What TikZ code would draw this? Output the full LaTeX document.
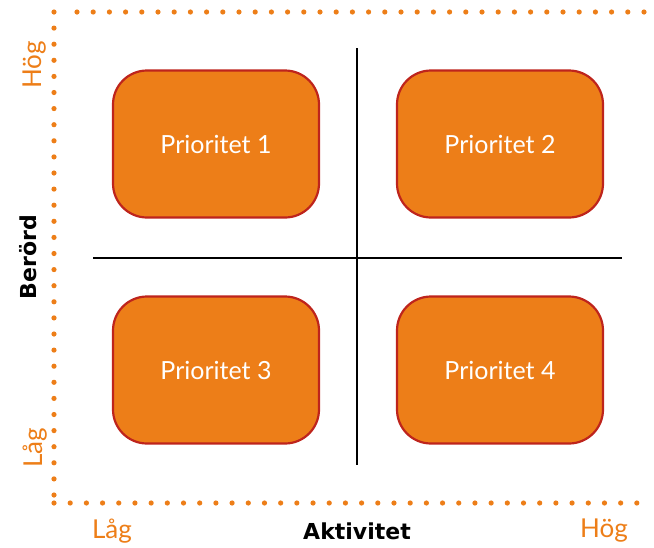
\documentclass[tikz,border=0pt]{standalone}
\usepackage{fontspec}
\setmainfont{Lato}
\newfontfamily\boldsans{DejaVu Sans}
\definecolor{boxfill}{RGB}{237,126,24}
\definecolor{boxedge}{RGB}{190,36,28}
\definecolor{axisorange}{RGB}{237,126,24}
\begin{document}
\begin{tikzpicture}[x=1pt,y=-1pt,
  prio/.style={draw=boxedge, line width=2.2pt, fill=boxfill, rounded corners=34pt,
    minimum width=206pt, minimum height=147pt, text=white, font=\fontsize{25}{29}\selectfont},
  scalelabel/.style={text=axisorange, font=\fontsize{26}{30}\selectfont},
  axistitle/.style={font=\fontsize{22}{26}\boldsans\bfseries},
  divider/.style={line width=1.8pt, black},
  dot/.style={fill=axisorange}]
\useasboundingbox (0,0) rectangle (654,547);

% dotted frame on the top, left and bottom
\foreach \i in {0,...,35} \fill[dot] (77+\i*16.2,12) circle (2.6);
\foreach \i in {0,...,30} \fill[dot] (54,12+\i*16.1) circle (2.6);
\foreach \i in {0,...,36} \fill[dot] (54+\i*16.19,503) circle (2.6);

% quadrant dividers
\coordinate (vtop) at (357,48);
\coordinate (vbot) at (357,465);
\coordinate (hleft) at (93,258);
\coordinate (hright) at (622,258);
\draw[divider] (vtop) -- (vbot);
\draw[divider] (hleft) -- (hright);

% priority boxes
\node[prio] (p1) at (216,144) {Prioritet 1};
\node[prio] (p2) at (500,144) {Prioritet 2};
\node[prio] (p3) at (216,370) {Prioritet 3};
\node[prio] (p4) at (500,370) {Prioritet 4};

% axis labels
\node[scalelabel, rotate=90] (yhigh) at (35,65) {Hög};
\node[scalelabel, rotate=90] (ylow) at (35,448) {Låg};
\node[axistitle, rotate=90] (ytitle) at (28,257) {Berörd};
\node[scalelabel] (xlow) at (112,531) {Låg};
\node[axistitle] (xtitle) at (357,531) {Aktivitet};
\node[scalelabel] (xhigh) at (604,531) {Hög};
\end{tikzpicture}
\end{document}
